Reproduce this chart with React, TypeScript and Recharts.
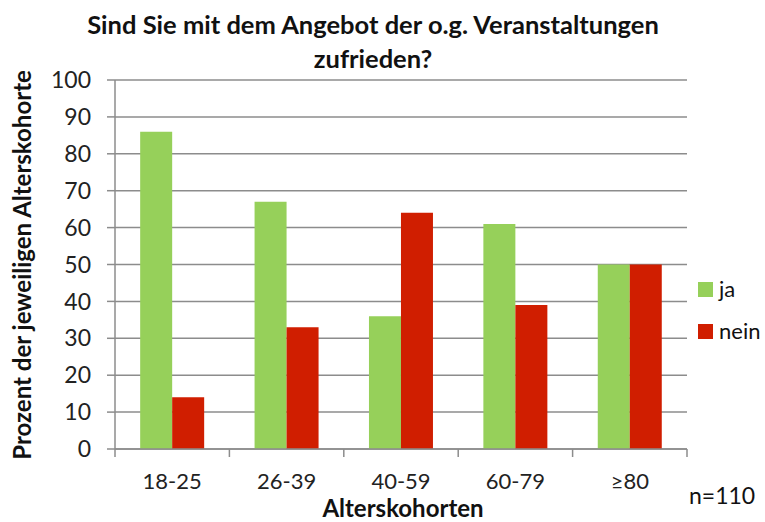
import { BarChart, Bar, XAxis, YAxis, CartesianGrid } from 'recharts'

const cohorts = ['18-25', '26-39', '40-59', '60-79', '≥80']
const ja = [86, 67, 36, 61, 50]
const nein = [14, 33, 64, 39, 50]
const yTicks = [0, 10, 20, 30, 40, 50, 60, 70, 80, 90, 100]

const data = cohorts.map((c, i) => ({ cohort: c, ja: ja[i], nein: nein[i] }))

const FONT = 'Lato, "Open Sans", sans-serif'
const GREEN = '#96d05a'
const RED = '#d01e00'
const GRID = '#8c8c8c'
const BAND = (687 - 115) / cohorts.length

const XTick = (props: any) => {
  const { x, y, payload, index } = props
  return (
    <g>
      <line x1={x - BAND / 2} x2={x - BAND / 2} y1={y - 8} y2={y} stroke={GRID} strokeWidth={1.5} />
      {index === cohorts.length - 1 && (
        <line x1={x + BAND / 2} x2={x + BAND / 2} y1={y - 8} y2={y} stroke={GRID} strokeWidth={1.5} />
      )}
      <text x={x} y={y + 32} textAnchor="middle" fill="#222" fontSize={22} fontFamily={FONT}>
        {payload.value}
      </text>
    </g>
  )
}

export default function App() {
  return (
    <div style={{ position: 'relative', width: 765, height: 522, background: '#fff', fontFamily: FONT, color: '#111' }}>
      <style>{'body{margin:0}'}</style>
      <div style={{ position: 'absolute', left: 0, width: 746, top: 7, textAlign: 'center', fontWeight: 700, fontSize: 25.5, lineHeight: '34px' }}>
        Sind Sie mit dem Angebot der o.g. Veranstaltungen<br />zufrieden?
      </div>
      <BarChart width={765} height={522} data={data} margin={{ top: 80, right: 78, left: 0, bottom: 33 }}
        barCategoryGap="22%" barGap={0}>
        <CartesianGrid vertical={false} stroke={GRID} strokeWidth={1.5} />
        <XAxis dataKey="cohort" height={40} tick={<XTick />} tickLine={false} axisLine={{ stroke: GRID, strokeWidth: 1.5 }} interval={0} />
        <YAxis domain={[0, 100]} ticks={yTicks} width={115} tickSize={8} tickMargin={16}
          tick={{ fill: '#222', fontSize: 23, fontFamily: FONT }}
          tickLine={{ stroke: GRID, strokeWidth: 1.5 }} axisLine={{ stroke: GRID, strokeWidth: 1.5 }} />
        <Bar dataKey="ja" fill={GREEN} isAnimationActive={false} />
        <Bar dataKey="nein" fill={RED} isAnimationActive={false} />
      </BarChart>
      <div style={{ position: 'absolute', left: 22, top: 265, transform: 'translate(-50%, -50%) rotate(-90deg)', whiteSpace: 'nowrap', fontWeight: 700, fontSize: 24, lineHeight: '28px' }}>
        Prozent der jeweiligen Alterskohorte
      </div>
      <div style={{ position: 'absolute', left: 0, width: 806, top: 495, textAlign: 'center', fontWeight: 700, fontSize: 24, lineHeight: '26px' }}>
        Alterskohorten
      </div>
      <div style={{ position: 'absolute', left: 689, top: 480, fontSize: 23, lineHeight: '30px' }}>n=110</div>
      {[{ name: 'ja', color: GREEN, y: 289 }, { name: 'nein', color: RED, y: 331 }].map((l) => (
        <div key={l.name} style={{ position: 'absolute', left: 698, top: l.y - 15, display: 'flex', alignItems: 'center', fontSize: 22, lineHeight: '30px' }}>
          <span style={{ width: 15, height: 15, background: l.color, marginRight: 6 }} />
          {l.name}
        </div>
      ))}
    </div>
  )
}
